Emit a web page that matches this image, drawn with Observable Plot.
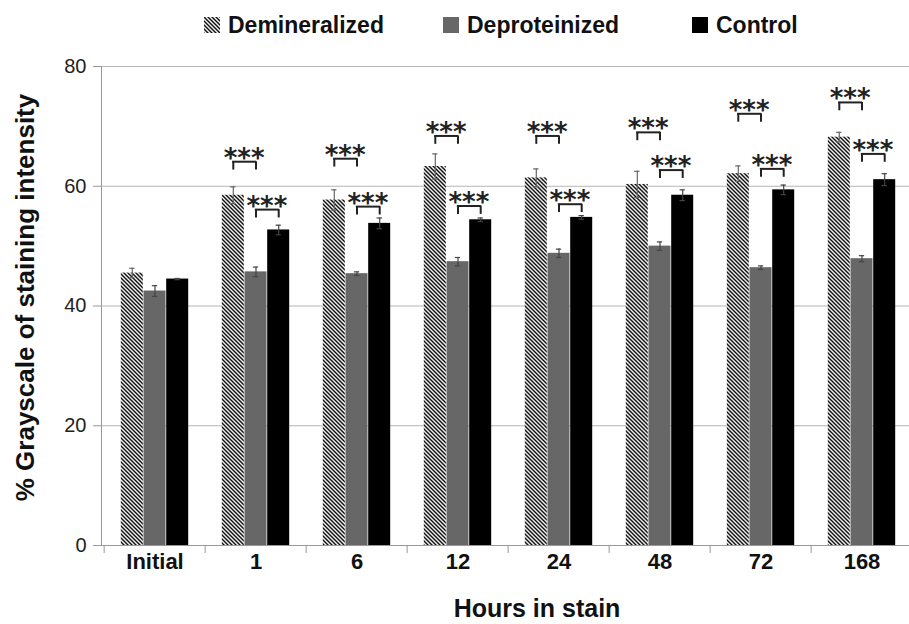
<!DOCTYPE html>
<html><head><meta charset="utf-8">
<script src="https://cdn.jsdelivr.net/npm/d3@7"></script>
<script src="https://cdn.jsdelivr.net/npm/@observablehq/plot@0.6"></script>
<style>
body{margin:0;background:#fff;font-family:"Liberation Sans",Arial,sans-serif;}
#legend{position:relative;height:45px;width:909px;}
.item{position:absolute;top:7px;height:36px;display:flex;align-items:center;font-size:23px;font-weight:bold;color:#111;white-space:nowrap;}
.sw{width:16px;height:16px;margin-right:8px;display:block;}
</style></head><body>
<div id="legend"></div>
<div id="chart"></div>
<script>
// ---- data ----
const categories = ["Initial", "1", "6", "12", "24", "48", "72", "168"];
const seriesNames = ["Demineralized", "Deproteinized", "Control"];
const demineralized = [45.5, 58.5, 57.7, 63.3, 61.4, 60.3, 62.1, 68.2];
const demineralizedErr = [0.8, 1.4, 1.7, 2.1, 1.5, 2.2, 1.3, 0.8];
const deproteinized = [42.5, 45.7, 45.4, 47.4, 48.8, 50.0, 46.4, 47.9];
const deproteinizedErr = [0.9, 0.8, 0.3, 0.7, 0.7, 0.7, 0.3, 0.5];
const control = [44.5, 52.7, 53.8, 54.4, 54.8, 58.5, 59.4, 61.1];
const controlErr = [0.1, 0.8, 0.9, 0.3, 0.3, 0.9, 0.8, 1.0];
const yTicks = [0, 20, 40, 60, 80];
// significance brackets (***), level of each bracket
const bracketCategories = ["1", "6", "12", "24", "48", "72", "168"];
const bracketDemDep = [64.1, 64.6, 68.4, 68.4, 69.0, 72.1, 74.0];
const bracketDepCtrl = [56.1, 56.6, 56.7, 57.0, 62.7, 62.9, 65.4];
const starLabel = "***";
const xTitle = "Hours in stain";
const yTitle = "% Grayscale of staining intensity";

// ---- layout / style ----
const fills = ["url(#hatch)", "#676767", "#000"];
const S = 101.7;      // group band step (px)
const W = 22.7;       // bar width
const G = (S - 3 * W) / 2; // offset of first bar within band
const ML = 101;
const center = i => G + (i + 0.5) * W;
const legLen = 1.4;

const values = [demineralized, deproteinized, control];
const errs = [demineralizedErr, deproteinizedErr, controlErr];
const rows = categories.flatMap((c, j) => seriesNames.map((s, i) => ({category: c, series: s, i, value: values[i][j], err: errs[i][j]})));
const brackets = bracketCategories.map((c, k) => ({category: c, a: bracketDemDep[k], b: bracketDepCtrl[k]}));

// ---- legend ----
const legend = document.getElementById("legend");
const legendPos = [204, 443, 692];
seriesNames.forEach((s, i) => {
  const it = document.createElement("div");
  it.className = "item";
  it.style.left = legendPos[i] + "px";
  let sw;
  if (i === 0) {
    sw = `<svg class="sw" width="16" height="16"><defs><pattern id="hatchL" patternUnits="userSpaceOnUse" width="4" height="4"><rect width="4" height="4" fill="#f0f0f0"/><path d="M-1,-1L5,5M3,-1L5,1M-1,3L1,5" stroke="#111" stroke-width="1.4"/></pattern></defs><rect width="16" height="16" fill="url(#hatchL)"/></svg>`;
  } else {
    sw = `<svg class="sw" width="16" height="16"><rect width="16" height="16" fill="${fills[i]}"/></svg>`;
  }
  it.innerHTML = sw + `<span>${s}</span>`;
  legend.appendChild(it);
});

// ---- marks ----
const marks = [
  Plot.gridY([20, 40, 60, 80], {stroke: "#b5b5b5", strokeOpacity: 1}),
  Plot.ruleY([0], {stroke: "#999"}),
  Plot.frame({anchor: "left", stroke: "#999"})
];
seriesNames.forEach((s, i) => {
  const d = rows.filter(r => r.i === i);
  marks.push(Plot.barY(d, {x: "category", y: "value", fill: fills[i], insetLeft: G + i * W, insetRight: S - G - (i + 1) * W}));
});
seriesNames.forEach((s, i) => {
  const d = rows.filter(r => r.i === i);
  const ec = i === 0 ? "#666" : "#444";
  marks.push(Plot.ruleX(d, {x: "category", y1: r => r.value - r.err, y2: r => r.value + r.err, dx: center(i) - S / 2, stroke: ec, strokeWidth: 1.2}));
  const caps = d.flatMap(r => [{category: r.category, y: r.value + r.err}, {category: r.category, y: r.value - r.err}]);
  marks.push(Plot.tickY(caps, {x: "category", y: "y", insetLeft: center(i) - 3, insetRight: S - center(i) - 3, stroke: ec, strokeWidth: 1.2}));
});
// brackets
[["a", 0, 1], ["b", 1, 2]].forEach(([key, i0, i1]) => {
  const st = {stroke: "#222", strokeWidth: 2};
  marks.push(Plot.tickY(brackets, {x: "category", y: key, insetLeft: center(i0) - 1, insetRight: S - center(i1) - 1, ...st}));
  marks.push(Plot.ruleX(brackets, {x: "category", y1: r => r[key] - legLen, y2: key, dx: center(i0) - S / 2, ...st}));
  marks.push(Plot.ruleX(brackets, {x: "category", y1: r => r[key] - legLen, y2: key, dx: center(i1) - S / 2, ...st}));
  marks.push(Plot.text(brackets, {x: "category", y: key, text: () => starLabel, dx: (center(i0) + center(i1)) / 2 - S / 2 - 0.5, dy: 5, lineAnchor: "bottom", fontSize: 26, fontWeight: "bold", fontFamily: "DejaVu Sans", fill: "#222", ariaLabel: "stars"}));
});
// axes
marks.push(Plot.axisY({ticks: yTicks, tickSize: 8, tickPadding: 7, fontSize: 20, stroke: "#999", fill: "#222", label: null}));
marks.push(Plot.axisX({tickSize: 0, tickPadding: 8, fontSize: 22, fontWeight: "bold", fill: "#111", label: null}));
marks.push(Plot.axisX({tickSize: 8, tickFormat: () => "", dx: -S / 2, stroke: "#999", label: null}));
marks.push(Plot.text([xTitle], {frameAnchor: "bottom", lineAnchor: "bottom", dy: 71, dx: 536.5 - (ML + 909) / 2, fontSize: 25, fontWeight: "bold", fill: "#111"}));
marks.push(Plot.text([yTitle], {frameAnchor: "left", rotate: -90, textAnchor: "middle", lineAnchor: "middle", dx: -76, dy: -8.5, fontSize: 26, fontWeight: "bold", fill: "#111", ariaLabel: "ytitle"}));

const svg = Plot.plot({
  width: 909,
  height: 579,
  marginTop: 21,
  marginBottom: 79,
  marginLeft: ML,
  marginRight: 0,
  x: {domain: categories, range: [ML, ML + 8 * S], padding: 0},
  y: {domain: [0, 80]},
  style: {fontFamily: "Liberation Sans, Arial, sans-serif", background: "#fff"},
  marks
});

// patterns
const ns = "http://www.w3.org/2000/svg";
const defs = document.createElementNS(ns, "defs");
defs.innerHTML = `<pattern id="hatch" patternUnits="userSpaceOnUse" width="4" height="4"><rect width="4" height="4" fill="#f0f0f0"/><path d="M-1,-1L5,5M3,-1L5,1M-1,3L1,5" stroke="#111" stroke-width="1.4"/></pattern>`;
svg.insertBefore(defs, svg.firstChild);
d3.select(svg).selectAll('g[aria-label="ytitle"] text').attr("letter-spacing", "0.7px");
d3.select(svg).selectAll('g[aria-label="stars"] text').attr("letter-spacing", "-1.5px");
document.getElementById("chart").appendChild(svg);
</script>
</body></html>
